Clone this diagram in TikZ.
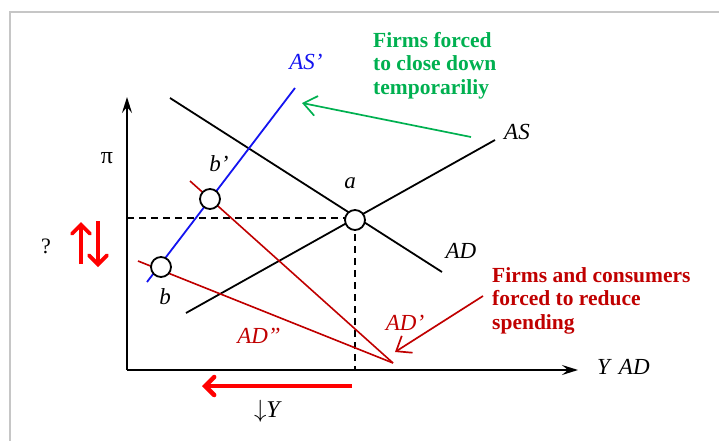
\documentclass[tikz,border=0pt]{standalone}
\usepackage{fontspec}
\setmainfont{Liberation Serif}
\usetikzlibrary{arrows.meta}
\definecolor{gr}{RGB}{0,176,80}
\definecolor{dr}{RGB}{192,0,0}
\definecolor{br}{RGB}{255,0,0}
\definecolor{bl}{RGB}{20,20,240}
\tikzset{
  lbl/.style={font=\fontsize{23}{23}\selectfont\itshape, inner sep=0pt},
  pt/.style={circle, draw=black, fill=white, line width=1.8pt, minimum size=20pt, inner sep=0pt},
  curve/.style={line width=1.8pt},
  redcurve/.style={line width=1.6pt, draw=dr},
  note/.style={font=\fontsize{21.5}{23.5}\selectfont\bfseries, align=left, anchor=north west, inner sep=0pt},
  axis/.style={line width=2.2pt, -{Stealth[length=16pt,width=10pt,inset=6pt]}},
  thin arrow/.style={line width=1.7pt, -{Straight Barb[length=13pt,width=20pt]}},
  bigarrow/.style={draw=br, line width=4.5pt, -{Straight Barb[length=9pt,width=18pt,line cap=round]}},
  dashline/.style={line width=1.6pt, dash pattern=on 7pt off 5pt},
}
\begin{document}
\begin{tikzpicture}[x=1pt,y=-1pt]
\useasboundingbox (0,0) rectangle (719,441);
\draw[gray!45, line width=1.5pt] (10,441) -- (10,12) -- (719,12);
% axes
\coordinate (O) at (127,370);
\coordinate (ytop) at (127,97);
\coordinate (xend) at (578,370);
\draw[axis] (O) -- (ytop);
\draw[axis] (O) -- (xend);
\node[font=\fontsize{24}{24}\selectfont, inner sep=0pt] (pi) at (107,158) {π};
\node[lbl, anchor=west] (yad) at (597,367) {Y\hspace{9pt}AD};
% points
\coordinate (ASs) at (186,313); \coordinate (ASe) at (495,140);
\coordinate (ADs) at (170,98);  \coordinate (ADe) at (442,272);
\coordinate (APs) at (147,282); \coordinate (APe) at (295,88);
\coordinate (conv) at (393,363);
\coordinate (R1s) at (190,181);
\coordinate (R2s) at (138,261);
% dashed
\coordinate (hl) at (127,218);
\coordinate (vb) at (355,370);
\draw[dashline] (hl) -- (355,218);
\draw[dashline] (355,222) -- (vb);
% curves
\draw[curve] (ASs) -- (ASe);
\draw[curve] (ADs) -- (ADe);
\draw[curve, draw=bl] (APs) -- (APe);
\draw[redcurve] (R1s) -- (conv);
\draw[redcurve] (R2s) -- (conv);
% circles
\node[pt] (a) at (355,220) {};
\node[pt] (bp) at (210,199) {};
\node[pt] (b) at (161,267) {};
% labels
\node[lbl] (la) at (350,183) {a};
\node[lbl] (lbp) at (219,164) {b’};
\node[lbl] (lb) at (165,297) {b};
\node[lbl] (lAS) at (517,132) {AS};
\node[lbl] (lAD) at (461,251) {AD};
\node[lbl, text=bl] (lASp) at (306,62) {AS’};
\node[lbl, text=dr] (lADp) at (405,323) {AD’};
\node[lbl, text=dr] (lADpp) at (259,336) {AD”};
% notes
\node[note, text=gr] (gnote) at (373,32) {Firms forced\\to close down\\temporariliy};
\coordinate (gfrom) at (471,137);
\coordinate (gto) at (302,103);
\draw[draw=gr, thin arrow] (gfrom) -- (gto);
\node[note, text=dr] (rnote) at (492,267) {Firms and consumers\\forced to reduce\\spending};
\coordinate (rfrom) at (483,296);
\coordinate (rto) at (395,352);
\draw[draw=dr, thin arrow] (rfrom) -- (rto);
% red shift arrows
\coordinate (u1) at (81,264); \coordinate (u2) at (81,222);
\coordinate (d1) at (98,221); \coordinate (d2) at (98,267);
\draw[bigarrow, line width=3.8pt] (u1) -- (u2);
\draw[bigarrow, line width=3.8pt] (d1) -- (d2);
\node[font=\fontsize{22}{22}\selectfont, inner sep=0pt] (q) at (46,246) {?};
\coordinate (h1) at (352,386); \coordinate (h2) at (202,386);
\draw[bigarrow] (h1) -- (h2);
\node[font=\fontsize{24}{24}\selectfont, inner sep=0pt] (dy) at (268,411) {$\downarrow$\textit{Y}};
\end{tikzpicture}
\end{document}
